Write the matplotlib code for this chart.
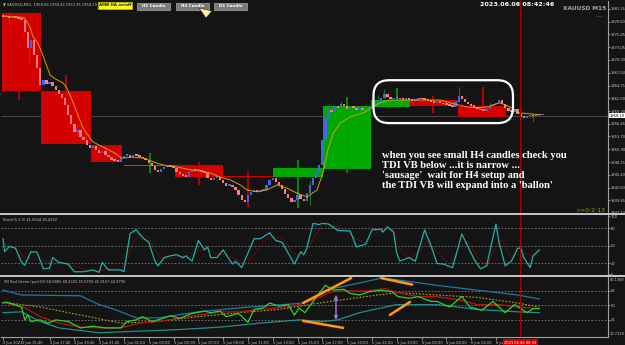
"""XAUUSD M15 chart with H4 candle boxes, Stochastic and TDI panels."""

import matplotlib.pyplot as plt
from matplotlib.lines import Line2D
from matplotlib.patches import Rectangle, FancyBboxPatch, Polygon

# ---- data (x = bar index of the M15 candles) ----
closes = [1979.6, 1979.8, 1979.4, 1979.6, 1979.4, 1979.2, 1979.0, 1976.4, 1972.9, 1974.6,
          1971.4, 1968.6, 1964.9, 1966.0, 1965.1, 1965.5, 1964.7, 1963.8, 1962.9, 1962.0,
          1960.5, 1958.4, 1956.4, 1954.7, 1955.1, 1953.6, 1952.9, 1951.9, 1951.2, 1951.6,
          1950.8, 1950.1, 1950.6, 1949.7, 1949.3, 1948.6, 1948.4, 1948.2, 1949.0, 1949.5,
          1949.7, 1949.3, 1949.7, 1949.5, 1949.3, 1949.0, 1948.6, 1948.0, 1947.3, 1946.4,
          1946.0, 1946.6, 1947.1, 1947.3, 1947.1, 1946.9, 1946.0, 1945.6, 1945.1, 1944.9,
          1946.0, 1946.4, 1946.2, 1946.4, 1946.0, 1945.8, 1944.7, 1944.3, 1944.7, 1944.9,
          1944.3, 1943.6, 1943.0, 1943.2, 1942.7, 1942.1, 1941.0, 1939.9, 1939.5, 1941.0,
          1941.7, 1941.9, 1941.7, 1941.9, 1942.1, 1943.2, 1944.3, 1944.7, 1943.8, 1943.2,
          1942.3, 1941.2, 1940.4, 1939.5, 1939.9, 1941.0, 1940.1, 1939.7, 1941.4, 1943.2,
          1944.7, 1946.0, 1947.5, 1952.9, 1957.7, 1959.4, 1959.0, 1960.3, 1959.9, 1960.7,
          1960.3, 1959.7, 1960.1, 1959.9, 1959.4, 1959.9, 1959.4, 1959.7, 1959.9, 1960.3,
          1960.7, 1961.4, 1962.0, 1962.9, 1962.3, 1961.8, 1962.0, 1962.0, 1961.8, 1961.6,
          1961.8, 1961.6, 1961.4, 1961.6, 1961.8, 1961.8, 1961.6, 1961.4, 1961.2, 1961.0,
          1961.2, 1961.0, 1960.7, 1960.5, 1960.3, 1960.1, 1961.2, 1962.5, 1961.8, 1961.2,
          1960.7, 1960.3, 1960.1, 1959.7, 1959.4, 1959.2, 1959.7, 1960.3, 1960.7, 1961.0,
          1961.6, 1960.7, 1959.9, 1959.2, 1959.0, 1959.7, 1958.6, 1957.9, 1957.7, 1958.1,
          1958.4, 1958.1, 1958.4, 1958.3, 1958.4]
first_open = 1979.8

# small M15 wicks that stand out
wick_x = [2, 8.4, 24, 33, 60, 99, 105, 109, 121, 123, 147, 157, 171]
wick_hi = [1980.5, 1973.1, 1955.9, 1951.4, 1946.9, 1944.0, 1961.0, 1961.4, 1962.6, 1964.0, 1964.4, 1961.0, 1958.6]
wick_lo = [1977.9, 1969.2, 1953.9, 1949.3, 1945.6, 1938.8, 1957.4, 1959.2, 1960.3, 1962.0, 1961.6, 1959.6, 1956.9]

# H4 candles drawn as boxes behind the M15 candles
h4_start = [-0.3, 12.3, 28.4, 39.0, 55.5, 71.0, 87.0, 103.2, 118.7, 131.3, 146.8]
h4_end = [12.3, 28.4, 38.4, 55.5, 71.0, 87.0, 103.2, 118.7, 131.3, 146.8, 162.3]
h4_open = [1980.5, 1963.6, 1951.9, 1947.3, 1947.5, 1944.95, 1944.9, 1946.6, 1960.1, 1961.6, 1960.3]
h4_close = [1963.6, 1952.1, 1948.2, 1947.4, 1944.9, 1944.9, 1946.9, 1960.3, 1961.6, 1960.3, 1957.9]
h4_wick_x = [5, 20.3, 47.4, 63.2, 79, 95.2, 111, 127, 138.7, 154.8]
h4_wick_hi = [1963.6, 1967.0, 1950.1, 1948.2, 1946.0, 1948.6, 1962.3, 1964.2, 1962.5, 1964.4]
h4_wick_lo = [1961.6, 1963.6, 1945.8, 1943.2, 1938.4, 1938.2, 1945.8, 1961.6, 1958.8, 1957.9]
h4_wick_up = [False, False, True, False, False, True, True, True, False, False]

# moving average over price
ma_x = [0, 5.5, 7, 8.7, 9.7, 11, 12.6, 14.2, 15.2, 16.8, 19.4, 20.6, 22.3, 23.9, 25.8, 29,
        32.3, 35.5, 38.4, 41.9, 45.2, 49.7, 52.9, 56.1, 59.4, 63.5, 66.8, 70, 73.2, 76.5,
        78.7, 81.9, 85.2, 88.4, 91.6, 94.8, 98.1, 101.3, 103.2, 104.8, 106.5, 108.7, 111.9,
        116.1, 119, 121.6, 124.8, 141, 144.2, 149.7, 152.9, 156.1, 160.3, 163.5, 166.8, 173.2]
ma_y = [1979.8, 1979.6, 1979.4, 1977.4, 1975.3, 1974.2, 1971.8, 1968.8, 1967.0, 1966.2,
        1965.3, 1964.2, 1961.6, 1958.8, 1955.5, 1952.5, 1951.4, 1950.3, 1949.0, 1949.2,
        1949.0, 1947.9, 1947.3, 1947.1, 1946.6, 1946.2, 1945.8, 1944.9, 1944.3, 1943.2,
        1942.1, 1941.7, 1942.1, 1943.2, 1942.5, 1941.4, 1940.6, 1942.1, 1945.8, 1950.8,
        1954.4, 1956.6, 1957.9, 1958.8, 1959.9, 1961.0, 1961.6, 1961.6, 1961.0, 1960.1,
        1959.9, 1960.1, 1961.0, 1960.1, 1958.8, 1958.4]

price_ticks = [1981.35, 1978.60, 1975.85, 1973.05, 1970.30, 1967.50, 1964.75, 1962.00, 1959.20,
               1956.45, 1953.70, 1950.90, 1948.15, 1945.40, 1942.60, 1939.85, 1937.10]
bid = 1958.19

# stochastic
st_x = [0, 0.5, 2, 4, 6, 7, 9, 11, 13, 15, 16, 18, 21, 23, 26, 29, 31, 32, 34, 38, 39, 41, 43,
        45, 47, 49, 50, 52, 54, 56, 58, 59, 61, 63, 65, 66, 67, 69, 71, 74, 75, 77, 81, 83, 86,
        88, 90, 94, 96, 97, 98, 100, 102, 103, 105, 108, 112, 114, 117, 119, 122, 122.5, 124,
        126, 127, 128, 131, 133, 136, 138, 140, 142, 145, 148, 150, 152, 154, 156, 159, 160,
        162, 164, 166, 167, 168, 170, 171, 173]
st_k = [62, 40, 49, 46, 22, 17, 40, 39, 11, 12, 30, 22, 19, 6, 6, 9, 5, 22, 9, 9, 6, 71, 77,
        64, 56, 24, 16, 30, 33, 35, 30, 33, 24, 59, 43, 48, 30, 30, 43, 19, 24, 13, 62, 62, 72,
        59, 56, 19, 40, 35, 46, 88, 86, 88, 87, 76, 75, 48, 53, 77, 78, 73, 82, 73, 38, 24, 30,
        24, 77, 51, 20, 19, 13, 70, 48, 27, 11, 16, 87, 56, 16, 24, 46, 46, 30, 13, 33, 43]
sig_x = [0, 2, 5, 7, 10, 13, 16, 19, 23, 27, 31, 34, 38, 40, 42, 44, 47, 49, 51, 54, 57, 60,
         63, 66, 69, 72, 75, 78, 81, 84, 87, 90, 93, 96, 98, 100, 103, 106, 110, 114, 117, 120,
         123, 126, 128, 131, 134, 137, 140, 144, 147, 150, 153, 156, 159, 161, 164, 167, 170, 173]
sig_d = [55, 48, 44, 30, 28, 25, 20, 22, 16, 8, 7, 12, 10, 25, 55, 70, 65, 45, 28, 28, 33, 30,
         40, 46, 36, 35, 28, 18, 35, 58, 66, 62, 40, 30, 38, 62, 85, 85, 78, 62, 55, 70, 78, 78,
         45, 28, 40, 58, 40, 18, 45, 58, 32, 15, 50, 60, 30, 38, 35, 33]

# TDI lines
up_x = [0, 6, 25, 31, 36, 43, 50, 63, 76, 89, 97, 104, 115, 122, 127, 140, 153, 166, 173]
up_y = [69, 63, 62, 51, 45, 34.5, 34.5, 42, 47, 50.6, 53, 69, 78, 84, 82, 75, 69, 63, 58]
lo_x = [0, 6, 12, 18, 31, 44, 57, 70, 83, 95.5, 103, 108, 115, 127, 140, 153, 166, 173]
lo_y = [41, 42, 30, 22, 16, 18, 20, 23, 28, 32, 30, 32, 41, 51, 51, 45, 42, 41]
mid_x = [0, 12, 25, 38, 50, 63, 76, 89, 102, 115, 127, 140, 153, 166, 173]
mid_y = [54, 48, 38, 28, 30, 36, 41, 45, 53, 60, 66, 63, 60, 53, 48]
red_x = [0, 3, 7, 12, 18, 25, 31, 38, 44, 50, 57, 63, 70, 76, 83, 89, 95.5, 102, 106, 111, 117,
         123.5, 127, 134, 140, 147, 153, 160, 166, 173]
red_y = [54, 51, 47, 36, 28, 23, 22, 22, 28, 30, 34, 38, 42, 42, 45, 47, 51, 60, 67, 68, 68,
         71, 66, 61, 61, 57, 51, 51, 48, 46]
grn_x = [0, 1, 3, 6, 7, 8, 9, 12, 14.5, 17, 21, 25, 29, 33, 38, 40, 43, 45, 48, 50, 54, 57, 61,
         65, 67, 70, 72, 76, 79, 81, 84, 86, 89, 92, 94, 95.5, 97.4, 101, 104, 106.5, 110, 112,
         115, 118, 122, 125.5, 127.4, 131, 134, 138, 140, 144, 148, 150.6, 154.5, 158, 162,
         165, 169, 171, 173]
grn_y = [53, 54, 52, 48, 32, 38, 30, 32, 28, 32, 30, 22, 24, 22, 22, 30, 32, 36, 30, 32, 37,
         34, 40, 43, 41, 43, 36, 40, 29, 45, 47, 53, 49, 51, 38, 47, 41, 60, 75, 69, 70, 65, 63,
         67, 69, 67, 61, 59, 61, 55, 55, 48, 61, 48, 44, 55, 41, 51, 41, 46, 46]

# hand drawn marks on the TDI window
orange_x0 = [96.8, 96.8, 122.0, 124.8]
orange_x1 = [112.3, 109.7, 132.0, 131.3]
orange_y0 = [53.1, 30.8, 84.0, 38.2]
orange_y1 = [84.1, 22.1, 76.0, 54.4]

time_ticks = [0, 6, 15, 23, 31, 39, 47, 55, 63, 71, 79, 87, 95, 103, 111, 119, 127, 135, 143,
              151, 159]
time_labels = ["2 Jun 2023", "2 Jun 15:45", "2 Jun 17:45", "2 Jun 19:45", "2 Jun 21:45",
               "5 Jun 01:00", "5 Jun 03:00", "5 Jun 05:00", "5 Jun 07:00", "5 Jun 09:00",
               "5 Jun 11:00", "5 Jun 13:00", "5 Jun 15:00", "5 Jun 17:00", "5 Jun 19:00",
               "5 Jun 21:00", "5 Jun 23:00", "6 Jun 02:00", "6 Jun 04:00", "6 Jun 06:00", "6 Jun"]
cursor_bar = 166.8

note = ("when you see small H4 candles check you\n"
        "TDI VB below ...it is narrow ...\n"
        "'sausage'  wait for H4 setup and\n"
        "the TDI VB will expand into a 'ballon'")

BG = '#141414'
AX = '#c8c8c8'
TS = 2.6          # size of the tiny terminal texts
W, H = 625, 345
XL = (-0.65, 195.15)


def panel(top, bottom):
    a = fig.add_axes([1 / W, 1 - bottom / H, 607 / W, (bottom - top) / H])
    a.set_facecolor(BG)
    a.set_xlim(*XL)
    for s in ['top', 'left', 'bottom']:
        a.spines[s].set_visible(False)
    a.spines['right'].set_color('#a0a0a0')
    a.spines['right'].set_linewidth(0.8)
    a.yaxis.tick_right()
    a.tick_params(axis='y', colors=AX, labelsize=TS, length=1.2, width=0.5, pad=0.5)
    a.tick_params(axis='x', bottom=False, labelbottom=False)
    a.axvline(cursor_bar, color='#b00000', lw=0.8, zorder=6)
    return a


fig = plt.figure(figsize=(6.25, 3.45), dpi=100, facecolor=BG)

# ---------------- price window ----------------
ax = panel(1, 213)
ax.set_ylim(1937.10, 1983.08)
ax.set_yticks(price_ticks)
ax.set_yticklabels([f"{p:.2f}" for p in price_ticks])

for s, e, o, c in zip(h4_start, h4_end, h4_open, h4_close):
    col = '#00a800' if c > o else '#d40000'
    lo, hgt = min(o, c), max(abs(c - o), 0.25)
    ax.add_patch(Rectangle((s, lo), e - s, hgt, facecolor=col, edgecolor='none', zorder=1))
for x, hi, lo, up in zip(h4_wick_x, h4_wick_hi, h4_wick_lo, h4_wick_up):
    ax.vlines(x, lo, hi, color='#00a000' if up else '#d00000', lw=1.2, zorder=1.5)

ax.axhline(bid, color='#505050', lw=0.6, zorder=0.5)

opens = [first_open] + closes[:-1]
for i, (o, c) in enumerate(zip(opens, closes)):
    col = '#3f68e8' if c > o else '#ff7a7a'
    ax.bar(i, max(abs(c - o), 0.35), bottom=min(o, c), width=0.78, color=col,
           edgecolor='none', zorder=3)
for x, hi, lo in zip(wick_x, wick_hi, wick_lo):
    ax.vlines(x, lo, hi, color='#109010', lw=0.6, zorder=2.5)

ax.plot(ma_x, ma_y, color='#d4a010', lw=0.7, zorder=4)

# hand drawn ring round the small H4 candles
ax.add_patch(FancyBboxPatch((119.5, 1956.6), 45, 9.3,
                            boxstyle="round,pad=0,rounding_size=5",
                            mutation_aspect=0.672, facecolor='none',
                            edgecolor='white', lw=1.6, zorder=5))
ax.text(122.3, 1950.5, note, color='white', fontsize=7.6, fontweight='bold',
        family='Liberation Serif', va='top', ha='left', linespacing=1.12, zorder=6)

# current price tag
ax.text(1.002, bid, f"{bid:.2f}", transform=ax.get_yaxis_transform(), fontsize=TS,
        color='black', va='center', ha='left',
        bbox=dict(boxstyle='square,pad=0.1', fc='white', ec='none'), zorder=7)

# ---------------- stochastic window ----------------
axs = panel(214, 275)
axs.set_ylim(0.5, 103.9)
axs.set_yticks([100, 80, 50, 20, 2])
axs.set_yticklabels(['100', '80', '50', '20', '0'])
for lv in [80, 50, 20]:
    axs.axhline(lv, color='#7a7a7a', lw=0.6, ls=(0, (2, 2)), zorder=1)
axs.plot(sig_x, sig_d, color='#a01010', lw=0.6, ls=(0, (1.5, 1.5)), zorder=2)
axs.plot(st_x, st_k, color='#20b2aa', lw=0.9, zorder=3)
axs.text(0.004, 0.93, "Stoch(5,3,3) 41.0644 36.4992", transform=axs.transAxes,
         fontsize=TS, color='#c0c0c0', va='top')

# ---------------- TDI window ----------------
axt = panel(277, 337)
axt.set_ylim(10.7, 85.4)
axt.set_yticks([68, 50, 32])
axt.spines['bottom'].set_visible(True)
axt.spines['bottom'].set_color('#a0a0a0')
axt.spines['bottom'].set_linewidth(0.8)
for lv in [68, 50, 32]:
    axt.axhline(lv, color='#7a7a7a', lw=0.6, ls=(0, (2, 2)), zorder=1)
axt.plot(up_x, up_y, color='#1f78a8', lw=0.9, zorder=2)
axt.plot(lo_x, lo_y, color='#1f8f8a', lw=0.9, zorder=2)
axt.plot(mid_x, mid_y, color='#a8a820', lw=0.8, ls=(0, (1.5, 1.5)), zorder=2)
axt.plot(red_x, red_y, color='#c01010', lw=0.9, zorder=3)
axt.plot(grn_x, grn_y, color='#30d030', lw=0.9, zorder=4)
for x0, x1, y0, y1 in zip(orange_x0, orange_x1, orange_y0, orange_y1):
    axt.plot([x0, x1], [y0, y1], color='#ff9a10', lw=1.8, solid_capstyle='round', zorder=5)
axt.annotate('', xy=(107.4, 66.8), xytext=(107.4, 28.3),
             arrowprops=dict(arrowstyle='<|-|>', color='#9a70d8', lw=1.1,
                             mutation_scale=5), zorder=5)
axt.text(0.004, 0.95, "TDI Red Green (port33) 58.0865 48.4322 35.5759 45.9167 44.9795",
         transform=axt.transAxes, fontsize=TS, color='#c0c0c0', va='top')
axt.text(1.003, 0.985, "86.1368", transform=axt.transAxes, fontsize=TS,
         color=AX, va='top', ha='left')
axt.text(1.003, 0.02, "10.7128", transform=axt.transAxes, fontsize=TS,
         color=AX, va='bottom', ha='left')

axt.set_xticks(time_ticks)
axt.set_xticklabels(time_labels)
axt.tick_params(axis='x', bottom=True, labelbottom=True, colors=AX, labelsize=TS,
                length=2, width=0.5, pad=1.2)
for lab in axt.get_xticklabels():
    lab.set_horizontalalignment('left')
axt.text(cursor_bar, -0.06, "2023.06.06 08:30", transform=axt.get_xaxis_transform(),
         fontsize=TS, color='white', ha='center', va='top', zorder=8,
         bbox=dict(boxstyle='square,pad=0.35', fc='#d00000', ec='none'))

# ---------------- window decorations ----------------
for yy in [214, 276]:
    fig.add_artist(Line2D([0, 1], [1 - yy / H] * 2, color='#c8c8c8', lw=1.4))


def fx(x):
    return x / W


def fy(y):
    return 1 - y / H


fig.text(fx(3), fy(5), "\u25bc XAUUSD,M15  1958.08 1958.43 1957.35 1958.19", fontsize=TS,
         color='#c0c0c0', va='center')
fig.add_artist(Rectangle((fx(98), fy(9)), 34 / W, 7 / H, transform=fig.transFigure,
                         facecolor='#ffff00', edgecolor='#c0c000', lw=0.5))
fig.text(fx(115), fy(5.5), "AMB HA on/off", fontsize=2.9, color='#1010c0',
         fontweight='bold', ha='center', va='center')
for x0, txt in zip([137, 176, 214], ["H1 Candle", "H4 Candle", "D1 Candle"]):
    fig.add_artist(Rectangle((fx(x0), fy(9.5)), 33 / W, 7 / H, transform=fig.transFigure,
                             facecolor='#7a7a7a', edgecolor='#a8a8a8', lw=0.5))
    fig.text(fx(x0 + 16.5), fy(6), txt, fontsize=3.0, color='white',
             fontweight='bold', ha='center', va='center')
fig.add_artist(Polygon([(fx(199), fy(8)), (fx(212), fy(11)), (fx(206), fy(18))],
                       closed=True, transform=fig.transFigure, facecolor='#fff2b0',
                       edgecolor='#202020', lw=0.4))
fig.text(fx(517), fy(5), "2023.06.06 08:42:46", fontsize=4.6, color='white',
         fontweight='bold', ha='center', va='center')
fig.text(fx(585), fy(8.5), "XAUUSD M15", fontsize=4.2, color='#a8a8a8',
         fontweight='bold', ha='center', va='center')
fig.text(fx(600), fy(16), "----", fontsize=3.2, color='#c0c0c0', ha='center', va='center')
fig.text(fx(590), fy(210), ">>0:2:13", fontsize=4.4, color='#a0a000',
         ha='center', va='center')

fig.savefig('out.png', dpi=100, facecolor=BG)
